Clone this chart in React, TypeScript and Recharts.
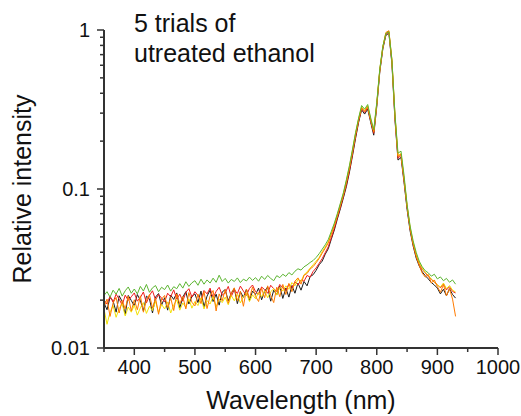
import React from "react";
import { Line, LineChart, XAxis, YAxis } from "recharts";

// wavelength grid (nm)
const wavelengths = [
  350, 355, 360, 365, 370, 375, 380, 385, 390, 395,
  400, 405, 410, 415, 420, 425, 430, 435, 440, 445,
  450, 455, 460, 465, 470, 475, 480, 485, 490, 495,
  500, 505, 510, 515, 520, 525, 530, 535, 540, 545,
  550, 555, 560, 565, 570, 575, 580, 585, 590, 595,
  600, 605, 610, 615, 620, 625, 630, 635, 640, 645,
  650, 655, 660, 665, 670, 675, 680, 685, 690, 695,
  700, 705, 710, 715, 720, 725, 730, 735, 740, 745,
  750, 755, 760, 765, 770, 775, 780, 785, 790, 795,
  800, 805, 810, 815, 820, 825, 830, 835, 840, 845,
  850, 855, 860, 865, 870, 875, 880, 885, 890, 895,
  900, 905, 910, 915, 920, 925, 930,
];

const trialBlack = [
  0.0192, 0.0174, 0.0208, 0.0198, 0.0168, 0.0213, 0.0196, 0.0163, 0.0214, 0.0199,
  0.0184, 0.0217, 0.0199, 0.0171, 0.0212, 0.0204, 0.0166, 0.0209, 0.0220, 0.0186,
  0.0207, 0.0173, 0.0215, 0.0202, 0.0222, 0.0178, 0.0209, 0.0226, 0.0189, 0.0211,
  0.0219, 0.0193, 0.0228, 0.0181, 0.0212, 0.0231, 0.0196, 0.0218, 0.0186, 0.0225,
  0.0233, 0.0198, 0.0221, 0.0237, 0.0190, 0.0226, 0.0208, 0.0234, 0.0199, 0.0228,
  0.0217, 0.0238, 0.0201, 0.0228, 0.0242, 0.0197, 0.0231, 0.0216, 0.0245, 0.0205,
  0.0238, 0.0209, 0.0247, 0.0221, 0.0256, 0.0231, 0.0262, 0.0246, 0.0281, 0.0289,
  0.0308, 0.0334, 0.0352, 0.0389, 0.0421, 0.0483, 0.0552, 0.0648, 0.0752, 0.0881,
  0.104, 0.128, 0.162, 0.208, 0.262, 0.315, 0.296, 0.318, 0.262, 0.218,
  0.330, 0.545, 0.760, 0.925, 0.955, 0.610, 0.272, 0.152, 0.158, 0.110,
  0.0745, 0.0545, 0.0438, 0.0368, 0.0328, 0.0301, 0.0285, 0.0272, 0.0258, 0.0249,
  0.0238, 0.0219, 0.0234, 0.0213, 0.0236, 0.0217, 0.0206,
];

const trialRed = [
  0.0201, 0.0189, 0.0212, 0.0194, 0.0218, 0.0203, 0.0186, 0.0215, 0.0199, 0.0210,
  0.0222, 0.0197, 0.0208, 0.0225, 0.0192, 0.0214, 0.0229, 0.0201, 0.0217, 0.0206,
  0.0195, 0.0221, 0.0210, 0.0232, 0.0203, 0.0218, 0.0197, 0.0224, 0.0236, 0.0209,
  0.0226, 0.0214, 0.0201, 0.0230, 0.0219, 0.0238, 0.0207, 0.0227, 0.0241, 0.0215,
  0.0222, 0.0244, 0.0211, 0.0233, 0.0220, 0.0245, 0.0228, 0.0214, 0.0237, 0.0249,
  0.0226, 0.0218, 0.0242, 0.0233, 0.0221, 0.0248, 0.0236, 0.0227, 0.0251, 0.0239,
  0.0231, 0.0252, 0.0240, 0.0261, 0.0249, 0.0268, 0.0263, 0.0286, 0.0279, 0.0303,
  0.0319, 0.0341, 0.0365, 0.0398, 0.0433, 0.0494, 0.0566, 0.0661, 0.0768, 0.0902,
  0.107, 0.131, 0.166, 0.213, 0.266, 0.320, 0.303, 0.325, 0.268, 0.224,
  0.338, 0.556, 0.772, 0.940, 0.968, 0.625, 0.280, 0.156, 0.163, 0.113,
  0.0770, 0.0560, 0.0452, 0.0381, 0.0340, 0.0312, 0.0297, 0.0281, 0.0270, 0.0259,
  0.0250, 0.0239, 0.0254, 0.0232, 0.0243, 0.0227, 0.0222,
];

const trialYellow = [
  0.0176, 0.0141, 0.0168, 0.0185, 0.0156, 0.0177, 0.0190, 0.0159, 0.0181, 0.0168,
  0.0186, 0.0161, 0.0179, 0.0193, 0.0165, 0.0183, 0.0172, 0.0197, 0.0167, 0.0188,
  0.0176, 0.0195, 0.0166, 0.0186, 0.0201, 0.0173, 0.0192, 0.0180, 0.0204, 0.0178,
  0.0196, 0.0185, 0.0207, 0.0176, 0.0199, 0.0189, 0.0211, 0.0182, 0.0203, 0.0193,
  0.0209, 0.0187, 0.0214, 0.0198, 0.0218, 0.0192, 0.0210, 0.0222, 0.0196, 0.0216,
  0.0204, 0.0224, 0.0210, 0.0229, 0.0207, 0.0226, 0.0236, 0.0215, 0.0241, 0.0228,
  0.0246, 0.0234, 0.0258, 0.0246, 0.0271, 0.0262, 0.0289, 0.0301, 0.0318, 0.0334,
  0.0352, 0.0371, 0.0404, 0.0432, 0.0466, 0.0528, 0.0597, 0.0688, 0.0802, 0.0935,
  0.113, 0.139, 0.176, 0.224, 0.276, 0.328, 0.312, 0.334, 0.275, 0.232,
  0.346, 0.566, 0.785, 0.955, 0.982, 0.640, 0.290, 0.162, 0.167, 0.117,
  0.0790, 0.0575, 0.0462, 0.0389, 0.0344, 0.0318, 0.0298, 0.0286, 0.0272, 0.0261,
  0.0249, 0.0242, 0.0256, 0.0236, 0.0247, 0.0231, 0.0225,
];

const trialOrange = [
  0.0181, 0.0203, 0.0158, 0.0192, 0.0208, 0.0166, 0.0199, 0.0176, 0.0212, 0.0171,
  0.0201, 0.0174, 0.0213, 0.0168, 0.0199, 0.0217, 0.0178, 0.0206, 0.0163, 0.0203,
  0.0214, 0.0180, 0.0207, 0.0172, 0.0219, 0.0189, 0.0211, 0.0176, 0.0223, 0.0194,
  0.0184, 0.0218, 0.0190, 0.0226, 0.0177, 0.0212, 0.0230, 0.0171, 0.0219, 0.0198,
  0.0233, 0.0191, 0.0222, 0.0239, 0.0198, 0.0227, 0.0183, 0.0235, 0.0205, 0.0242,
  0.0211, 0.0196, 0.0238, 0.0207, 0.0246, 0.0214, 0.0193, 0.0241, 0.0210, 0.0251,
  0.0217, 0.0255, 0.0226, 0.0263, 0.0276, 0.0252, 0.0287, 0.0294, 0.0314, 0.0325,
  0.0344, 0.0366, 0.0395, 0.0424, 0.0458, 0.0517, 0.0589, 0.0680, 0.0791, 0.0922,
  0.111, 0.136, 0.172, 0.220, 0.272, 0.325, 0.308, 0.330, 0.270, 0.228,
  0.342, 0.560, 0.780, 0.965, 0.990, 0.650, 0.292, 0.160, 0.166, 0.116,
  0.0782, 0.0563, 0.0449, 0.0377, 0.0331, 0.0296, 0.0279, 0.0290, 0.0256, 0.0268,
  0.0243, 0.0224, 0.0250, 0.0213, 0.0236, 0.0203, 0.0158,
];

const trialGreen = [
  0.0214, 0.0226, 0.0209, 0.0231, 0.0218, 0.0237, 0.0212, 0.0229, 0.0242, 0.0221,
  0.0235, 0.0219, 0.0244, 0.0228, 0.0251, 0.0224, 0.0239, 0.0247, 0.0226, 0.0241,
  0.0233, 0.0249, 0.0228, 0.0243, 0.0236, 0.0254, 0.0238, 0.0261, 0.0244, 0.0257,
  0.0265, 0.0248, 0.0271, 0.0252, 0.0268, 0.0256, 0.0275, 0.0259, 0.0287, 0.0262,
  0.0274, 0.0256, 0.0270, 0.0262, 0.0276, 0.0258, 0.0271, 0.0264, 0.0279, 0.0266,
  0.0277, 0.0263, 0.0283, 0.0270, 0.0286, 0.0274, 0.0265, 0.0285, 0.0277, 0.0291,
  0.0282, 0.0298, 0.0288, 0.0304, 0.0315, 0.0309, 0.0324, 0.0333, 0.0345, 0.0355,
  0.0371, 0.0392, 0.0418, 0.0446, 0.0481, 0.0541, 0.0610, 0.0701, 0.0815, 0.0950,
  0.115, 0.141, 0.178, 0.226, 0.279, 0.335, 0.318, 0.340, 0.280, 0.236,
  0.350, 0.570, 0.790, 0.950, 0.975, 0.645, 0.296, 0.168, 0.173, 0.122,
  0.0800, 0.0585, 0.0472, 0.0400, 0.0352, 0.0324, 0.0306, 0.0297, 0.0283, 0.0291,
  0.0272, 0.0280, 0.0265, 0.0274, 0.0259, 0.0268, 0.0252,
];

const xTicks = [350, 400, 450, 500, 550, 600, 650, 700, 750, 800, 850, 900, 950, 1000];
const xLabelled = [400, 500, 600, 700, 800, 900, 1000];
const yTicks = [
  0.01, 0.02, 0.03, 0.04, 0.05, 0.06, 0.07, 0.08, 0.09,
  0.1, 0.2, 0.3, 0.4, 0.5, 0.6, 0.7, 0.8, 0.9, 1,
];
const yLabelled = [0.01, 0.1, 1];

const FONT = "'Liberation Sans', Arial, sans-serif";
const AXIS = "#333333";

const data = wavelengths.map((nm, i) => ({
  nm,
  black: trialBlack[i],
  red: trialRed[i],
  yellow: trialYellow[i],
  orange: trialOrange[i],
  green: trialGreen[i],
}));

const series = [
  { key: "black", color: "#1a1a1a" },
  { key: "red", color: "#ee1c1c" },
  { key: "yellow", color: "#f2e205" },
  { key: "orange", color: "#ff7b00" },
  { key: "green", color: "#5cb531" },
];

function XTick(props) {
  const { x, y, payload } = props;
  const major = xLabelled.includes(payload.value);
  return (
    <g>
      <line x1={x} x2={x} y1={y} y2={y + (major ? 7 : 4)} stroke={AXIS} strokeWidth={1.5} />
      {major && (
        <text x={x} y={y + 26} textAnchor="middle" fontSize={20} fontFamily={FONT} fill="#111">
          {payload.value}
        </text>
      )}
    </g>
  );
}

function YTick(props) {
  const { x, y, payload } = props;
  const major = yLabelled.includes(payload.value);
  return (
    <g>
      <line x1={x - (major ? 7 : 4)} x2={x} y1={y} y2={y} stroke={AXIS} strokeWidth={1.5} />
      {major && (
        <text x={x - 14} y={y + 7} textAnchor="end" fontSize={20} fontFamily={FONT} fill="#111">
          {payload.value}
        </text>
      )}
    </g>
  );
}

export default function App() {
  return (
    <div style={{ position: "absolute", left: 0, top: 0, background: "#fff" }}>
      <LineChart
        width={521}
        height={416}
        data={data}
        margin={{ top: 30, right: 23, left: 44, bottom: 0 }}
      >
        <XAxis
          dataKey="nm"
          type="number"
          domain={[350, 1000]}
          ticks={xTicks}
          interval={0}
          height={68}
          tickSize={0}
          tickMargin={0}
          tickLine={false}
          tick={<XTick />}
          axisLine={{ stroke: AXIS, strokeWidth: 2 }}
        />
        <YAxis
          type="number"
          scale="log"
          domain={[0.01, 1]}
          allowDataOverflow
          ticks={yTicks}
          interval={0}
          width={60}
          tickSize={0}
          tickMargin={0}
          tickLine={false}
          tick={<YTick />}
          axisLine={{ stroke: AXIS, strokeWidth: 2 }}
        />
        {series.map((s) => (
          <Line
            key={s.key}
            dataKey={s.key}
            stroke={s.color}
            strokeWidth={1}
            dot={false}
            type="linear"
            isAnimationActive={false}
          />
        ))}
        <text x={301} y={409} textAnchor="middle" fontSize={25} fontFamily={FONT} fill="#111">
          Wavelength (nm)
        </text>
        <text
          x={31}
          y={189}
          transform="rotate(-90 31 189)"
          textAnchor="middle"
          fontSize={25}
          fontFamily={FONT}
          fill="#111"
        >
          Relative intensity
        </text>
        <text x={134} y={32} fontSize={25} fontFamily={FONT} fill="#111">
          5 trials of
        </text>
        <text x={134} y={62} fontSize={25} fontFamily={FONT} fill="#111">
          utreated ethanol
        </text>
      </LineChart>
    </div>
  );
}
